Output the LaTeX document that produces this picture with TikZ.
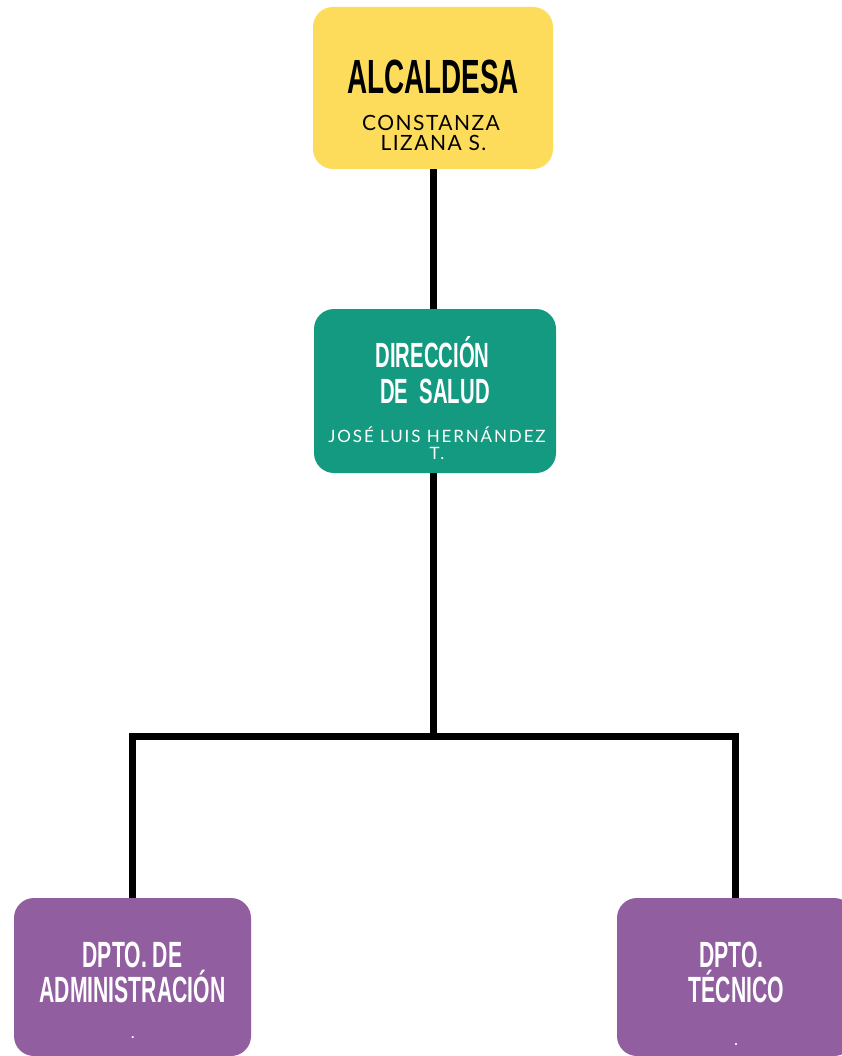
\documentclass[tikz,border=0pt]{standalone}
\usepackage{fontspec}
\newfontfamily\titlefont[FakeStretch=0.58]{Liberation Sans Bold}
\newfontfamily\namefont[LetterSpace=7]{Lato}
\newfontfamily\namefontw[LetterSpace=11]{Lato}
\definecolor{cyellow}{RGB}{253,220,92}
\definecolor{cteal}{RGB}{19,154,128}
\definecolor{cpurple}{RGB}{145,94,160}
\begin{document}
\begin{tikzpicture}[x=1pt,y=-1pt,
  box/.style={draw=none, rounded corners=20pt, minimum width=#1, inner sep=0pt},
  conn/.style={line width=7pt, line join=miter, line cap=butt, black},
  ttl/.style={anchor=base, inner sep=0pt, font=\titlefont\fontsize{48}{48}\selectfont},
  ttlm/.style={anchor=base, inner sep=0pt, font=\titlefont\fontsize{35}{35}\selectfont},
  ttlb/.style={anchor=base, inner sep=0pt, font=\titlefont\fontsize{36.5}{36.5}\selectfont, text=white},
  nm/.style={anchor=base, inner sep=0pt, font=\namefont\fontsize{21}{21}\selectfont},
  nmm/.style={anchor=base, inner sep=0pt, font=\namefontw\fontsize{17}{17}\selectfont, text=white},
]
\fill[white] (0,0) rectangle (842,1056);
\useasboundingbox (0,0) rectangle (842,1056);
% boxes
\node[box=240pt, minimum height=162pt, fill=cyellow] (top) at (433,88) {};
\node[box=242pt, minimum height=164pt, fill=cteal] (mid) at (435,391) {};
\node[box=237pt, minimum height=158pt, fill=cpurple] (left) at (132.5,977) {};
\node[box=237pt, minimum height=158pt, fill=cpurple] (right) at (735.5,977) {};
% connectors
\coordinate (j) at (433,736);
\draw[conn] (j |- top.south) -- (j |- mid.north);
\draw[conn] (j |- mid.south) -- (j);
\draw[conn] (left.north) -- (left.north |- j) -- (right.north |- j) -- (right.north);
% texts
\node[ttl] (t1) at (433,94) {ALCALDESA};
\node[nm] (n1a) at (431,131) {CONSTANZA};
\node[nm] (n1b) at (433.5,151) {LIZANA S.};
\node[ttlm, text=white] (t2a) at (432.5,367) {DIRECCIÓN};
\node[ttlm, text=white] (t2b) at (435,403) {DE\ \ SALUD};
\node[nmm] (n2a) at (437,442) {JOSÉ LUIS HERNÁNDEZ};
\node[nmm] (n2b) at (437,459) {T.};
\node[ttlb] (t3a) at (132.5,967) {DPTO. DE};
\node[ttlb] (t3b) at (132.5,1002) {ADMINISTRACIÓN};
\node[nmm] (n3) at (133,1038) {.};
\node[ttlb] (t4a) at (731.5,967) {DPTO.};
\node[ttlb] (t4b) at (736.5,1002) {TÉCNICO};
\node[nmm] (n4) at (736,1045) {.};
\end{tikzpicture}
\end{document}
